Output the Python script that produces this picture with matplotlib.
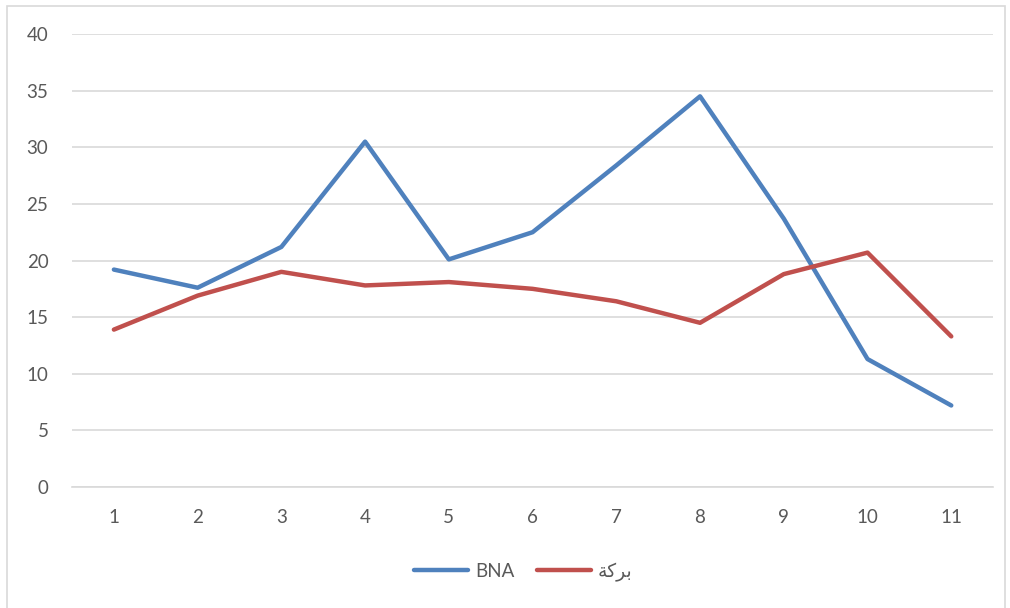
import matplotlib
matplotlib.use("Agg")
import matplotlib.pyplot as plt
from matplotlib.patches import Rectangle

plt.rcParams['font.family'] = ['Lato', 'DejaVu Sans']

# data
categories = [1, 2, 3, 4, 5, 6, 7, 8, 9, 10, 11]
bna = [19.2, 17.6, 21.2, 30.5, 20.1, 22.5, 28.4, 34.5, 23.7, 11.3, 7.2]
baraka = [13.9, 16.9, 19.0, 17.8, 18.1, 17.5, 16.4, 14.5, 18.8, 20.7, 13.3]
# "بركة" written in presentation forms so it shows joined, right-to-left
baraka_label = "\uFE94\uFEDB\uFEAE\uFE91"

fig = plt.figure(figsize=(10.1, 6.08), dpi=100)
ax = fig.add_axes([0.0713, 0.199, 0.912, 0.745])

# chart border
fig.patches.append(Rectangle((0.007, -0.01), 0.988, 1.0, transform=fig.transFigure,
                             fill=False, edgecolor='#D9D9D9', linewidth=1.2))

ax.plot(categories, bna, color='#4F81BD', linewidth=3.2, label='BNA',
        solid_capstyle='round', solid_joinstyle='round')
ax.plot(categories, baraka, color='#C0504D', linewidth=3.2, label=baraka_label,
        solid_capstyle='round', solid_joinstyle='round')

ax.set_xlim(0.5, 11.5)
ax.set_ylim(0, 40)
ax.set_yticks(range(0, 41, 5))
ax.set_xticks(categories)
ax.grid(True, axis='y', color='#D9D9D9', linewidth=1.2)
ax.set_axisbelow(True)
for s in ['top', 'right', 'left']:
    ax.spines[s].set_visible(False)
ax.spines['bottom'].set_color('#D9D9D9')
ax.spines['bottom'].set_linewidth(1.2)
ax.tick_params(length=0, labelsize=13.5, labelcolor='#595959')
ax.tick_params(axis='x', pad=16)
ax.tick_params(axis='y', pad=17)

leg = fig.legend(loc='center', bbox_to_anchor=(0.518, 0.059), ncol=2, frameon=False,
                 fontsize=13.5, handlelength=2.9, columnspacing=1.2, handletextpad=0.35)
for t in leg.get_texts():
    t.set_color('#595959')

fig.savefig('out.png', dpi=100)
